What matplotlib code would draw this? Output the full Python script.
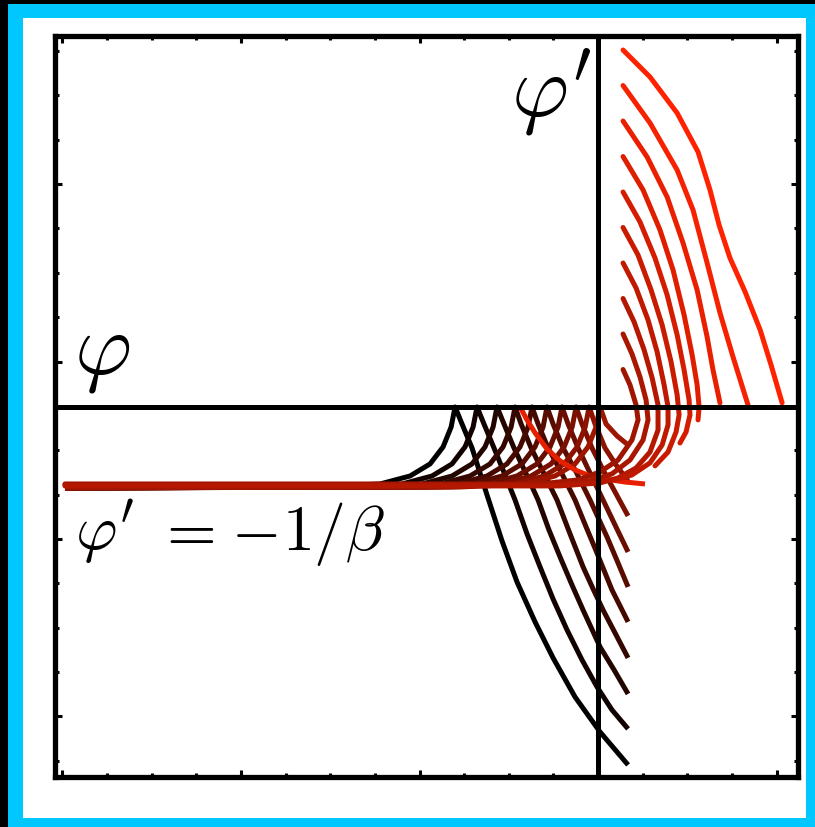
import numpy as np
import matplotlib
matplotlib.use("Agg")
import matplotlib.pyplot as plt
from matplotlib.patches import Rectangle
from matplotlib.colors import LinearSegmentedColormap

plt.rcParams['mathtext.fontset'] = 'cm'

# ---------------- data (phi, phi') ----------------
PHI_LEFT = -2.986
ASYMPTOTE = -0.445                      # phi' = -1/beta

# lower family: cusp on phi' = 0, left branch shape relative to the cusp, right branches
cusp_phi = [-0.801, -0.678, -0.566, -0.465, -0.370, -0.286, -0.202, -0.123, -0.050, 0.011]
left_dphi_off = [-0.784, -0.420, -0.252, -0.140, -0.067, -0.022, 0.0]
left_dphi_val = [-0.451, -0.434, -0.389, -0.321, -0.225, -0.113, 0.0]
right_phi = [
    [-0.762, -0.706, -0.622, -0.538, -0.454, -0.353, -0.252, -0.129, 0.011, 0.168],
    [-0.639, -0.583, -0.521, -0.465, -0.398, -0.325, -0.252, -0.174, -0.090, -0.006, 0.078, 0.168],
    [-0.527, -0.471, -0.403, -0.336, -0.275, -0.213, -0.146, -0.084, 0.011, 0.090, 0.168],
    [-0.431, -0.375, -0.308, -0.230, -0.157, -0.084, -0.028, 0.028, 0.095, 0.168],
    [-0.336, -0.280, -0.213, -0.129, -0.067, -0.006, 0.078, 0.168],
    [-0.252, -0.196, -0.123, -0.045, 0.050, 0.112, 0.168],
    [-0.168, -0.112, -0.045, 0.028, 0.095, 0.168],
    [-0.090, -0.034, 0.034, 0.101, 0.168],
    [-0.017, 0.039, 0.101, 0.168],
    [0.045, 0.106, 0.168],
]
right_dphi = [
    [-0.096, -0.231, -0.496, -0.755, -0.986, -1.211, -1.414, -1.634, -1.831, -2.017],
    [-0.096, -0.231, -0.383, -0.524, -0.715, -0.901, -1.082, -1.256, -1.425, -1.577, -1.707, -1.814],
    [-0.096, -0.231, -0.377, -0.524, -0.693, -0.845, -1.003, -1.144, -1.352, -1.482, -1.617],
    [-0.096, -0.231, -0.366, -0.524, -0.715, -0.901, -1.025, -1.144, -1.273, -1.414],
    [-0.096, -0.231, -0.355, -0.524, -0.676, -0.823, -1.031, -1.211],
    [-0.096, -0.231, -0.366, -0.524, -0.732, -0.879, -1.014],
    [-0.096, -0.231, -0.372, -0.524, -0.665, -0.817],
    [-0.096, -0.231, -0.366, -0.490, -0.614],
    [-0.096, -0.231, -0.327, -0.417],
    [-0.096, -0.163, -0.214],
]

# upper family (top = brightest)
upper_phi = [
    [0.140, 0.291, 0.443, 0.560, 0.627, 0.678, 0.739, 0.824, 0.908, 0.969, 1.031],
    [0.140, 0.291, 0.443, 0.532, 0.611, 0.683, 0.756, 0.840],
    [0.140, 0.275, 0.387, 0.476, 0.555, 0.611, 0.644, 0.683],
    [0.140, 0.252, 0.347, 0.420, 0.482, 0.527, 0.555, 0.566, 0.560],
    [0.140, 0.235, 0.319, 0.387, 0.443, 0.482, 0.510, 0.515, 0.493, 0.459],
    [0.140, 0.224, 0.297, 0.359, 0.409, 0.443, 0.454, 0.437, 0.392, 0.319],
    [0.140, 0.213, 0.280, 0.331, 0.370, 0.392, 0.392, 0.359, 0.291, 0.190, 0.095],
    [0.140, 0.202, 0.258, 0.303, 0.336, 0.336, 0.291, 0.213, 0.112, 0.011, -0.213, -2.986],
    [0.140, 0.190, 0.235, 0.269, 0.280, 0.252, 0.179, 0.078, -0.045, -0.269, -2.986],
    [0.140, 0.179, 0.213, 0.224, 0.190, 0.112, 0.011, -0.112, -0.325, -2.986],
]
upper_dphi = [
    [2.011, 1.859, 1.656, 1.437, 1.223, 1.025, 0.839, 0.648, 0.434, 0.237, 0.023],
    [1.811, 1.600, 1.335, 1.110, 0.811, 0.530, 0.282, 0.011],
    [1.611, 1.408, 1.183, 0.924, 0.659, 0.394, 0.208, 0.023],
    [1.411, 1.223, 0.997, 0.772, 0.518, 0.293, 0.124, 0.0, -0.073],
    [1.211, 1.042, 0.839, 0.631, 0.406, 0.208, 0.039, -0.045, -0.141, -0.203],
    [1.011, 0.856, 0.659, 0.462, 0.254, 0.068, -0.045, -0.141, -0.254, -0.332],
    [0.811, 0.670, 0.490, 0.310, 0.124, 0.0, -0.101, -0.214, -0.315, -0.383, -0.411],
    [0.611, 0.479, 0.321, 0.163, 0.011, -0.130, -0.254, -0.344, -0.400, -0.428, -0.445, -0.445],
    [0.411, 0.299, 0.169, 0.039, -0.073, -0.186, -0.299, -0.377, -0.417, -0.439, -0.439],
    [0.211, 0.124, 0.011, -0.073, -0.186, -0.299, -0.366, -0.411, -0.434, -0.434],
]

# bright branch leaving the phi axis towards the asymptote
bright_phi = [-0.437, -0.398, -0.353, -0.286, -0.213, -0.129, -0.045, 0.039, 0.151, 0.263]
bright_dphi = [0.0, -0.073, -0.146, -0.237, -0.304, -0.355, -0.389, -0.406, -0.423, -0.434]

# ---------------- figure ----------------
W, H = 815, 827
fig = plt.figure(figsize=(W/100, H/100), dpi=100)
fig.patch.set_facecolor('black')
fig.patches.append(Rectangle((8/W, 0), (W-8)/W, (H-4)/H, transform=fig.transFigure,
                             facecolor='#00c8ff', edgecolor='none', zorder=-2))
fig.patches.append(Rectangle((23/W, 9/H), (806-23)/W, (809-9)/H, transform=fig.transFigure,
                             facecolor='white', edgecolor='none', zorder=-1))

ax = fig.add_axes([55/W, 1-777/H, (798-55)/W, (777-36)/H])
ax.set_xlim(-3.042, 1.120)
ax.set_ylim(-2.085, 2.090)

cmap = LinearSegmentedColormap.from_list('br', ['#000000', '#ff2200'])
LW = 3.6
n = len(cusp_phi)
z = 2.0
for k in range(n):
    c = cusp_phi[k]
    xs = [PHI_LEFT] + [c + o for o in left_dphi_off] + right_phi[k]
    ys = [ASYMPTOTE - 0.011] + left_dphi_val + right_dphi[k]
    ax.plot(xs, ys, color=cmap(0.62 * k / (n - 1)), lw=LW, solid_joinstyle='round',
            solid_capstyle='butt', zorder=z)
    z += 0.01

ax.plot(bright_phi, bright_dphi, color=cmap(0.9), lw=LW, solid_joinstyle='round',
        solid_capstyle='butt', zorder=z)
z += 0.01

for j in range(n - 1, -1, -1):
    ax.plot(upper_phi[j], upper_dphi[j], color=cmap(1.0 - 0.38 * j / (n - 1)), lw=LW,
            solid_joinstyle='round', solid_capstyle='round', zorder=z)
    z += 0.01

ax.axhline(0, color='black', lw=3.6, zorder=5)
ax.axvline(0, color='black', lw=3.6, zorder=5)

for s in ax.spines.values():
    s.set_linewidth(3.8)
ax.set_xticks([-3, -2, -1, 0, 1])
ax.set_xticks(np.arange(-3, 1.1, 0.25), minor=True)
ax.set_yticks([1.256, 0.256, -0.744, -1.744])
ax.set_yticks(np.arange(-1.994, 2.05, 0.25), minor=True)
ax.tick_params(which='both', direction='in', top=True, right=True,
               labelbottom=False, labelleft=False, width=2.2)
ax.tick_params(which='major', length=5)
ax.tick_params(which='minor', length=3)

def figtext(px, py, s, size):
    fig.text(px / W, 1 - py / H, s, fontsize=size, color='black', ha='left', va='baseline')

figtext(74, 373, r'$\varphi$', 63)
figtext(511, 116, r"$\varphi'$", 63)
figtext(75, 550, r"$\varphi'$", 46)
figtext(155, 550, r"$=$", 46)
figtext(231, 550, r"$-$", 46)
figtext(282, 550, r"$1/\beta$", 46)

fig.savefig('out.png', dpi=100, facecolor=fig.get_facecolor())
